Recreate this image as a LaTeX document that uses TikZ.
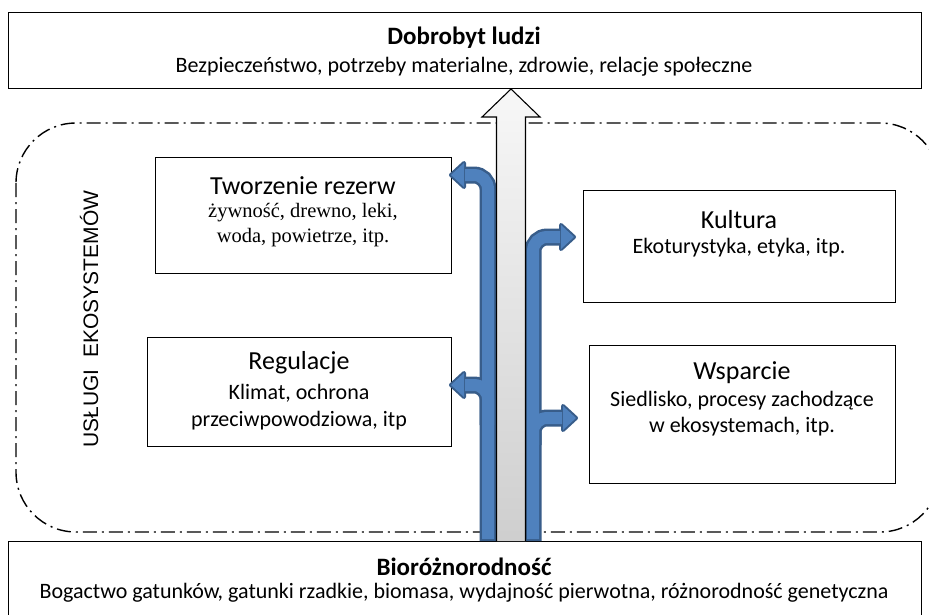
\documentclass[tikz,border=0pt]{standalone}
\usepackage{fontspec}
\setmainfont{Carlito}
\newfontfamily\serifcam{Liberation Serif}
\newfontfamily\arialf{Liberation Sans}
\definecolor{bluefill}{HTML}{4F81BD}
\definecolor{blueline}{HTML}{385D8A}
\tikzset{
  boxn/.style={draw, line width=1.1pt, inner sep=0pt, anchor=north west},
  bigttl/.style={font=\bfseries\fontsize{25}{29}\selectfont},
  sub/.style={font=\fontsize{22}{26}\selectfont},
  ttl/.style={font=\fontsize{26}{30}\selectfont},
  bodyt/.style={font=\fontsize{22}{26}\selectfont},
  sert/.style={font=\serifcam\fontsize{20.5}{24}\selectfont},
  dashdotline/.style={line width=1.4pt, dash pattern=on 14pt off 5pt on 2pt off 5pt},
  bluedark/.style={draw=blueline, line width=17pt, rounded corners=14pt},
  bluelight/.style={draw=bluefill, line width=12pt, rounded corners=14pt},
  headdark/.style={draw=blueline, fill=blueline, line width=4pt, line join=round},
  headlight/.style={fill=bluefill}
}
\begin{document}
\begin{tikzpicture}[x=1pt,y=-1pt]
\useasboundingbox (0,0) rectangle (929,614);
\clip (0,0) rectangle (929,614);
\fill[white] (0,0) rectangle (929,614);
% dashed frame of ecosystem services
\draw[dashdotline, rounded corners=60pt] (16,123) rectangle (940,532);
% top and bottom boxes
\node[boxn, minimum width=913pt, minimum height=76pt] (top) at (8,12) {};
\node[bigttl] (topT) at (464,38) {Dobrobyt ludzi};
\node[sub] (topS) at (464,67) {Bezpieczeństwo, potrzeby materialne, zdrowie, relacje społeczne};
\node[boxn, minimum width=913pt, minimum height=75pt] (bot) at (8,541) {};
\node[bigttl] (botT) at (464,567) {Bioróżnorodność};
\node[sub] (botS) at (464,593) {Bogactwo gatunków, gatunki rzadkie, biomasa, wydajność pierwotna, różnorodność genetyczna};
% rotated label
\node[rotate=90, font=\arialf\fontsize{21}{25}\selectfont] (uslugi) at (89,319) {USŁUGI\ \ EKOSYSTEMÓW};
% service boxes
\node[boxn, minimum width=296pt, minimum height=116pt] (tw) at (155,157) {};
\node[ttl] (twT) at (303,186) {Tworzenie rezerw};
\node[sert] (tw1) at (303,213) {żywność, drewno, leki,};
\node[sert] (tw2) at (303,238) {woda, powietrze, itp.};
\node[boxn, minimum width=312pt, minimum height=112pt] (ku) at (583,190) {};
\node[ttl] (kuT) at (739,220) {Kultura};
\node[bodyt] (ku1) at (739,248) {Ekoturystyka, etyka, itp.};
\node[boxn, minimum width=304pt, minimum height=109pt] (re) at (147,337) {};
\node[ttl] (reT) at (299,363) {Regulacje};
\node[bodyt] (re1) at (299,393) {Klimat, ochrona};
\node[bodyt] (re2) at (299,421) {przeciwpowodziowa, itp};
\node[boxn, minimum width=306pt, minimum height=138pt] (ws) at (589,345) {};
\node[ttl] (wsT) at (742,373) {Wsparcie};
\node[bodyt] (ws1) at (742,401) {Siedlisko, procesy zachodzące};
\node[bodyt] (ws2) at (742,427) {w ekosystemach, itp.};
% blue arrows: coordinates
\coordinate (lb) at (488,541);
\coordinate (rb) at (533,541);
% dark layer
\draw[bluedark] (lb) -- (488,175) -- (464,175);
\draw[bluedark] (488,425) -- (488,385) -- (464,385);
\draw[bluedark] (rb) -- (533,237) -- (561,237);
\draw[bluedark] (533,445) -- (533,418) -- (563,418);
\draw[headdark] (464,163) -- (451,175) -- (464,187) -- cycle;
\draw[headdark] (464,373) -- (451,385) -- (464,397) -- cycle;
\draw[headdark] (561,225) -- (574,237) -- (561,249) -- cycle;
\draw[headdark] (563,406) -- (576,418) -- (563,430) -- cycle;
% light layer
\fill[headlight] (464,163) -- (451,175) -- (464,187) -- cycle;
\fill[headlight] (464,373) -- (451,385) -- (464,397) -- cycle;
\fill[headlight] (561,225) -- (574,237) -- (561,249) -- cycle;
\fill[headlight] (563,406) -- (576,418) -- (563,430) -- cycle;
\draw[bluelight] (488,539) -- (488,175) -- (465,175);
\draw[bluelight] (488,425) -- (488,385) -- (465,385);
\draw[bluelight] (533,539) -- (533,237) -- (560,237);
\draw[bluelight] (533,445) -- (533,418) -- (562,418);
% big gray arrow
\coordinate (gtip) at (511,89);
\shade[top color=gray!6, bottom color=gray!38]
  (496.5,541) -- (496.5,117) -- (482,117) -- (gtip) -- (540,117) -- (525.5,117) -- (525.5,541) -- cycle;
\draw[line width=1.1pt, line join=miter]
  (496.5,541) -- (496.5,117) -- (482,117) -- (gtip) -- (540,117) -- (525.5,117) -- (525.5,541);
\end{tikzpicture}
\end{document}
